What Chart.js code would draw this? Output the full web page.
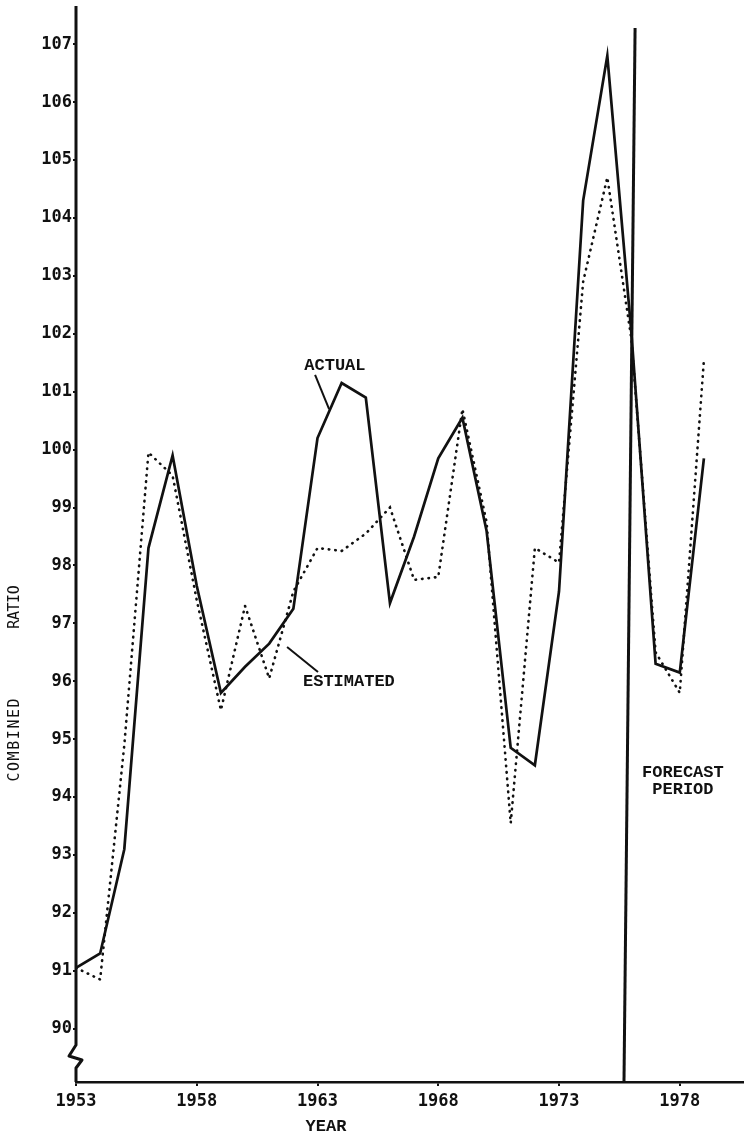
<!DOCTYPE html>
<html>
<head>
<meta charset="utf-8">
<script src="https://cdn.jsdelivr.net/npm/chart.js@4.4.1/dist/chart.umd.min.js"></script>
<style>
  html, body { margin: 0; padding: 0; background: #fff; }
  #wrap { position: relative; width: 744px; height: 1137px; }
</style>
</head>
<body>
<div id="wrap"><canvas id="chart"></canvas></div>
<script>
// combined ratio, actual vs estimated, 1953-1979
const years = [1953, 1954, 1955, 1956, 1957, 1958, 1959, 1960, 1961, 1962, 1963, 1964, 1965, 1966,
  1967, 1968, 1969, 1970, 1971, 1972, 1973, 1974, 1975, 1976, 1977, 1978, 1979];
const actual = [91.05, 91.3, 93.1, 98.3, 99.9, 97.65, 95.8, 96.25, 96.65, 97.25, 100.2, 101.15, 100.9, 97.35,
  98.5, 99.85, 100.55, 98.6, 94.85, 94.55, 97.55, 104.3, 106.8, 102.0, 96.3, 96.15, 99.85];
const estimated = [91.05, 90.85, 94.9, 99.95, 99.55, 97.4, 95.5, 97.3, 96.05, 97.55, 98.3, 98.25, 98.55, 99.0,
  97.75, 97.8, 100.7, 98.75, 93.55, 98.3, 98.05, 102.9, 104.7, 101.9, 96.5, 95.8, 101.55];

const xTicks = [1953, 1958, 1963, 1968, 1973, 1978];
const yTicks = [90, 91, 92, 93, 94, 95, 96, 97, 98, 99, 100, 101, 102, 103, 104, 105, 106, 107];

// forecast divider (slightly slanted, as drawn)
const forecastX = [1975.69, 1976.15];
const forecastY = [89.08, 107.28];

// labels and their leader lines
const noteText = ['ACTUAL', 'ESTIMATED', 'FORECAST', 'PERIOD'];
const noteX = [1963.72, 1964.3, 1978.13, 1978.13];
const noteY = [101.44, 96.0, 94.42, 94.12];
const actualLeaderX = [1962.9, 1963.48];
const actualLeaderY = [101.29, 100.7];
const estLeaderX = [1961.74, 1963.02];
const estLeaderY = [96.59, 96.16];

const pts = (xs, ys) => xs.map((x, i) => ({ x, y: ys[i] }));

const ink = '#111';
const tickFont = { family: '"DejaVu Sans Mono", monospace', size: 17, weight: 'bold' };

const paperPlugin = {
  id: 'paper',
  afterDraw(chart) {
    const { ctx, chartArea: a, scales: { x, y } } = chart;
    ctx.save();
    ctx.strokeStyle = ink;
    ctx.fillStyle = ink;
    ctx.lineJoin = 'round';

    // left axis with the break near the bottom
    const L = a.left, B = a.bottom;
    ctx.lineWidth = 3;
    ctx.beginPath();
    ctx.moveTo(L, a.top);
    ctx.lineTo(L, B - 37);
    ctx.lineTo(L - 7, B - 26);
    ctx.lineTo(L + 6, B - 22);
    ctx.lineTo(L, B - 14);
    ctx.lineTo(L, B);
    ctx.stroke();

    // notes
    ctx.font = 'bold 17px "Liberation Mono", monospace';
    ctx.textAlign = 'center';
    ctx.textBaseline = 'middle';
    noteText.forEach((t, i) => {
      ctx.fillText(t, x.getPixelForValue(noteX[i]), y.getPixelForValue(noteY[i]));
    });

    // x title
    ctx.font = 'bold 17px "Liberation Mono", monospace';
    ctx.fillText('YEAR', x.getPixelForValue(1963.35), B + 45);

    // y title, two words spread along the axis
    ctx.font = '15px "DejaVu Sans Mono", monospace';
    const drawUp = (word, cy, step) => {
      ctx.save();
      ctx.translate(15, cy);
      ctx.rotate(-Math.PI / 2);
      const start = -((word.length - 1) * step) / 2;
      for (let i = 0; i < word.length; i++) ctx.fillText(word[i], start + i * step, 0);
      ctx.restore();
    };
    drawUp('COMBINED', 740, 10.6);
    drawUp('RATIO', 607, 8.6);

    ctx.restore();
  }
};

new Chart(document.getElementById('chart'), {
  type: 'line',
  data: {
    datasets: [
      {
        label: 'Actual',
        data: pts(years, actual),
        borderColor: ink,
        borderWidth: 2.7,
        pointRadius: 0,
        tension: 0
      },
      {
        label: 'Estimated',
        data: pts(years, estimated),
        borderColor: ink,
        borderWidth: 2.6,
        borderDash: [0.5, 6],
        borderCapStyle: 'round',
        pointRadius: 0,
        tension: 0
      },
      {
        label: 'Forecast',
        data: pts(forecastX, forecastY),
        borderColor: ink,
        borderWidth: 3,
        pointRadius: 0
      },
      {
        label: 'leaderA',
        data: pts(actualLeaderX, actualLeaderY),
        borderColor: ink,
        borderWidth: 2,
        pointRadius: 0
      },
      {
        label: 'leaderE',
        data: pts(estLeaderX, estLeaderY),
        borderColor: ink,
        borderWidth: 2,
        pointRadius: 0
      }
    ]
  },
  options: {
    responsive: true,
    maintainAspectRatio: false,
    animation: false,
    layout: { padding: { top: 6, left: 0, right: 0, bottom: 0 } },
    plugins: { legend: { display: false }, tooltip: { enabled: false } },
    scales: {
      x: {
        type: 'linear',
        min: 1953,
        max: 1980.66,
        afterBuildTicks: s => { s.ticks = xTicks.map(v => ({ value: v })); },
        afterFit: s => { s.height = 55; s.paddingLeft = 0; s.paddingRight = 0; },
        ticks: {
          callback: v => String(v),
          font: tickFont,
          color: ink,
          padding: 5,
          maxRotation: 0,
          autoSkip: false
        },
        grid: { drawOnChartArea: false, drawTicks: true, tickLength: 4, color: ink, lineWidth: 2 },
        border: { display: true, color: ink, width: 2.5 }
      },
      y: {
        type: 'linear',
        min: 89.08,
        max: 107.66,
        afterBuildTicks: s => { s.ticks = yTicks.map(v => ({ value: v })); },
        afterFit: s => { s.width = 76; s.paddingTop = 0; s.paddingBottom = 0; },
        ticks: {
          callback: v => String(v),
          font: tickFont,
          color: ink,
          padding: 1,
          autoSkip: false
        },
        grid: { drawOnChartArea: false, drawTicks: true, tickLength: 3, color: ink, lineWidth: 2 },
        border: { display: false }
      }
    }
  },
  plugins: [paperPlugin]
});
</script>
</body>
</html>
